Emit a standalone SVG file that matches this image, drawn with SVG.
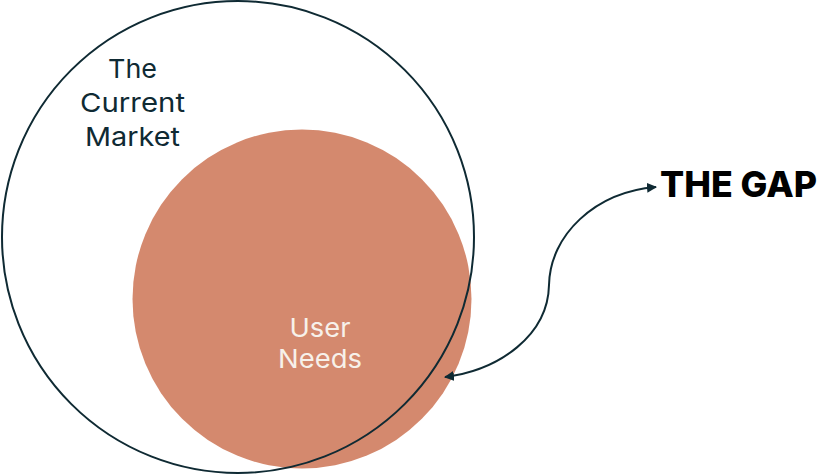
<svg xmlns="http://www.w3.org/2000/svg" width="840" height="474" viewBox="0 0 840 474">
<defs>
<style>
.lbl{font-family:Inter,"Noto Sans","Liberation Sans",sans-serif;font-size:26px;text-anchor:middle}
.dark{fill:#0f2a33}
.light{fill:#f7f1ea}
.gap{font-family:Inter,"Liberation Sans",sans-serif;font-weight:800;font-size:36px;fill:#000}
</style>
<marker id="ah" viewBox="0 0 10 10" refX="9" refY="5" markerWidth="5" markerHeight="5" orient="auto-start-reverse" markerUnits="strokeWidth">
<path d="M0,0 L10,5 L0,10 z" fill="#0f2a33"/>
</marker>
</defs>
<rect width="840" height="474" fill="#fff"/>
<g id="user-needs">
<circle cx="302" cy="299" r="169.5" fill="#d4896e"/>
<text class="lbl light" x="320" y="337" textLength="61" lengthAdjust="spacingAndGlyphs">User</text>
<text class="lbl light" x="320" y="368" textLength="84" lengthAdjust="spacingAndGlyphs">Needs</text>
</g>
<g id="current-market">
<circle cx="238" cy="237" r="236" fill="none" stroke="#0f2a33" stroke-width="2"/>
<text class="lbl dark" x="132.5" y="78" textLength="49" lengthAdjust="spacingAndGlyphs">The</text>
<text class="lbl dark" x="132.5" y="112" textLength="105" lengthAdjust="spacingAndGlyphs">Current</text>
<text class="lbl dark" x="132.5" y="146" textLength="95" lengthAdjust="spacingAndGlyphs">Market</text>
</g>
<g id="the-gap">
<text class="gap" x="660" y="197" textLength="157" lengthAdjust="spacingAndGlyphs">THE GAP</text>
</g>
<g id="connectors">
<path d="M445,377 C500,370 548,335 549,285 C550,235 595,192 656,187" fill="none" stroke="#0f2a33" stroke-width="2" marker-start="url(#ah)" marker-end="url(#ah)"/>
</g>
</svg>
